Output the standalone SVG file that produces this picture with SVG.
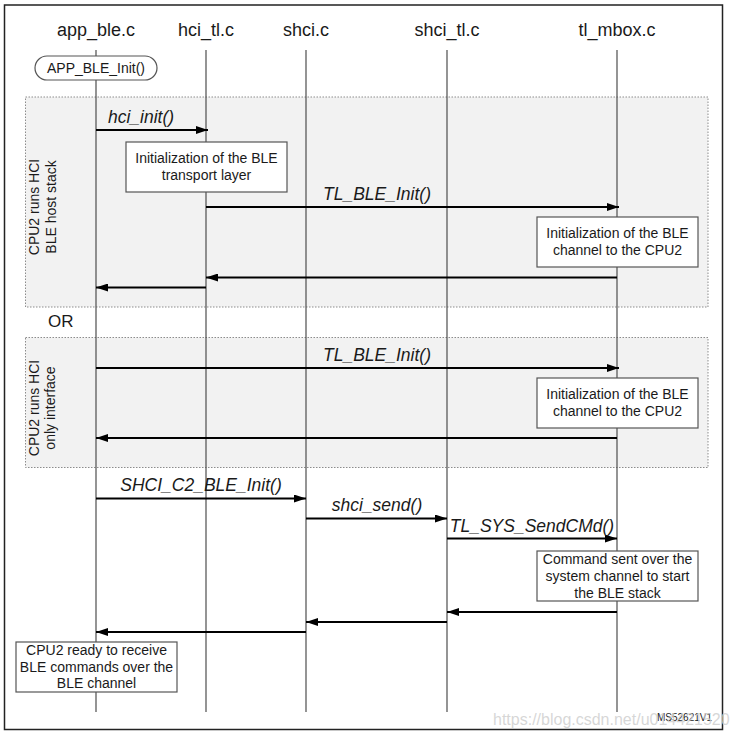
<svg xmlns="http://www.w3.org/2000/svg" width="736" height="738" viewBox="0 0 736 738">
<defs>
<style>
text{font-family:"Liberation Sans",Arial,sans-serif;fill:#1a1a1a}
.hdr{font-size:18px;text-anchor:middle}
.lbl{font-size:17.5px;font-style:italic;text-anchor:middle}
.note{font-size:14px;text-anchor:middle}
.side{font-size:14px;text-anchor:middle}
.life{stroke:#4d4d4d;stroke-width:1.2;fill:none}
.box{fill:#fff;stroke:#555;stroke-width:1.2}
.grp{fill:#f2f2f2;stroke:#8c8c8c;stroke-width:1;stroke-dasharray:1.5 1.5}
.msg{stroke:#000;stroke-width:2;fill:none;marker-end:url(#ah)}
</style>
<marker id="ah" markerWidth="12" markerHeight="8" refX="12" refY="4" orient="auto" markerUnits="userSpaceOnUse">
<path d="M0,0 L12,4 L0,8 z" fill="#000"/>
</marker>
</defs>
<rect x="0" y="0" width="736" height="738" fill="#fff"/>
<rect x="4.5" y="5" width="718" height="724.5" fill="none" stroke="#222" stroke-width="1.5"/>

<g id="group-hci-host">
<rect class="grp" x="25.5" y="97" width="682.5" height="210"/>
<text class="side" transform="translate(39,207) rotate(-90)">CPU2 runs HCI</text>
<text class="side" transform="translate(56,207) rotate(-90)">BLE host stack</text>
</g>
<g id="group-hci-only">
<rect class="grp" x="25.5" y="337.5" width="682.5" height="130"/>
<text class="side" transform="translate(39,408) rotate(-90)">CPU2 runs HCI</text>
<text class="side" transform="translate(55,408) rotate(-90)">only interface</text>
</g>
<text id="or-label" x="48" y="327" style="font-size:17px">OR</text>

<g id="app_ble">
<text class="hdr" x="96" y="36">app_ble.c</text>
<line class="life" x1="96" y1="50" x2="96" y2="712"/>
</g>
<g id="hci_tl">
<text class="hdr" x="206" y="36">hci_tl.c</text>
<line class="life" x1="206" y1="50" x2="206" y2="712"/>
</g>
<g id="shci">
<text class="hdr" x="306" y="36">shci.c</text>
<line class="life" x1="306" y1="50" x2="306" y2="712"/>
</g>
<g id="shci_tl">
<text class="hdr" x="447" y="36">shci_tl.c</text>
<line class="life" x1="447" y1="50" x2="447" y2="712"/>
</g>
<g id="tl_mbox">
<text class="hdr" x="617" y="36">tl_mbox.c</text>
<line class="life" x1="617" y1="50" x2="617" y2="712"/>
</g>

<g id="app-ble-init">
<rect class="box" x="35" y="56" width="122" height="24" rx="12" ry="12"/>
<text x="96" y="73" style="font-size:14px;text-anchor:middle">APP_BLE_Init()</text>
</g>

<g id="note-transport">
<rect class="box" x="126" y="142" width="161" height="50"/>
<text class="note" x="206.5" y="163">Initialization of the BLE</text>
<text class="note" x="206.5" y="180">transport layer</text>
</g>
<g id="note-channel-1">
<rect class="box" x="537" y="217" width="161" height="50"/>
<text class="note" x="617.5" y="238">Initialization of the BLE</text>
<text class="note" x="617.5" y="255">channel to the CPU2</text>
</g>
<g id="note-channel-2">
<rect class="box" x="537" y="378" width="161" height="50"/>
<text class="note" x="617.5" y="399">Initialization of the BLE</text>
<text class="note" x="617.5" y="416">channel to the CPU2</text>
</g>
<g id="note-command">
<rect class="box" x="537" y="551" width="161" height="50"/>
<text class="note" x="617.5" y="564">Command sent over the</text>
<text class="note" x="617.5" y="581">system channel to start</text>
<text class="note" x="617.5" y="597.5">the BLE stack</text>
</g>
<g id="note-ready">
<rect class="box" x="16" y="642" width="161" height="50"/>
<text class="note" x="96.5" y="655">CPU2 ready to receive</text>
<text class="note" x="96.5" y="671.5">BLE commands over the</text>
<text class="note" x="96.5" y="688">BLE channel</text>
</g>

<g id="connectors">
<path class="msg" d="M96,130 L208,130"/>
<text class="lbl" x="141" y="123">hci_init()</text>
<path class="msg" d="M206,207 L619,207"/>
<text class="lbl" x="377" y="200">TL_BLE_Init()</text>
<path class="msg" d="M617,277.5 L206,277.5"/>
<path class="msg" d="M206,287.5 L96,287.5"/>

<path class="msg" d="M96,368 L619,368"/>
<text class="lbl" x="377" y="361">TL_BLE_Init()</text>
<path class="msg" d="M617,438 L96,438"/>

<path class="msg" d="M96,498.5 L306,498.5"/>
<text class="lbl" x="201" y="491">SHCI_C2_BLE_Init()</text>
<path class="msg" d="M306,518.5 L447,518.5"/>
<text class="lbl" x="377" y="511">shci_send()</text>
<path class="msg" d="M447,538.5 L617,538.5"/>
<text class="lbl" x="532" y="531.5">TL_SYS_SendCMd()</text>
<path class="msg" d="M617,612 L447,612"/>
<path class="msg" d="M447,622 L306,622"/>
<path class="msg" d="M306,632 L96,632"/>
</g>

<text x="657" y="721" style="font-size:10px">MS52621V1</text>
<text x="493" y="725" style="font-size:16px;fill:#cfcfcf;fill-opacity:0.85">https://blog.csdn.net/u014421520</text>
</svg>
